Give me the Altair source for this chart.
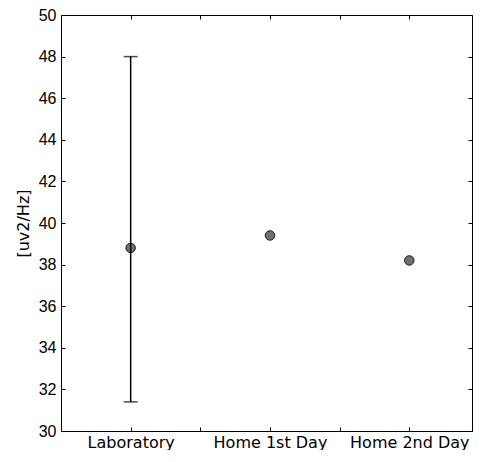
import altair as alt
import pandas as pd

categories = ["Laboratory", "Home 1st Day", "Home 2nd Day"]
positions = [1, 3, 5]
means = [38.8, 39.4, 38.2]
err_low = [31.4]
err_high = [48.0]
x_ticks = [1, 2, 3, 4, 5]
y_ticks = list(range(30, 51, 2))

df = pd.DataFrame({"cat": categories, "pos": positions, "mean": means})
err_df = pd.DataFrame({"pos": positions[:1], "lo": err_low, "hi": err_high})

label_expr = " : ".join(
    [f"datum.value == {p} ? '{c}'" for p, c in zip(positions, categories)]
) + " : ''"

W, H = 411, 416
XFONT = "DejaVu Sans"
YFONT = "Liberation Sans"
xscale = alt.Scale(domain=[0, 5.9], nice=False, zero=False)
yscale = alt.Scale(domain=[30, 50], nice=False, zero=False)

xaxis = alt.Axis(values=x_ticks, labelExpr=label_expr, title=None, grid=False,
                 ticks=False, domain=False, labelColor="black",
                 labelFont=XFONT, labelFontSize=16, labelPadding=3)
yaxis = alt.Axis(values=y_ticks, title="[uv2/Hz]", grid=False,
                 ticks=False, domain=False, labelColor="black",
                 labelFont=YFONT, labelFontSize=16, titleFont=XFONT, titleFontSize=16,
                 titleFontWeight="normal", titleColor="black", labelPadding=5,
                 titlePadding=7)

def tick_axis(orient, values, offset):
    return alt.Axis(orient=orient, values=values, labels=False, title=None, grid=False,
                    domain=False, tickSize=4, tickColor="black", tickWidth=1,
                    offset=offset)

points = alt.Chart(df).mark_point(filled=True, size=90, color="#707070", stroke="#1a1a1a",
                                  strokeWidth=1, opacity=1).encode(
    x=alt.X("pos:Q", scale=xscale, axis=xaxis),
    y=alt.Y("mean:Q", scale=yscale, axis=yaxis),
)

rule = alt.Chart(err_df).mark_rule(color="black", strokeWidth=1.5).encode(
    x=alt.X("pos:Q", scale=xscale, axis=None),
    y=alt.Y("lo:Q", scale=yscale, axis=None),
    y2="hi:Q",
)
cap_lo = alt.Chart(err_df).mark_tick(orient="horizontal", size=14, thickness=1.5, color="black").encode(
    x=alt.X("pos:Q", scale=xscale, axis=None),
    y=alt.Y("lo:Q", scale=yscale, axis=None),
)
cap_hi = alt.Chart(err_df).mark_tick(orient="horizontal", size=14, thickness=1.5, color="black").encode(
    x=alt.X("pos:Q", scale=xscale, axis=None),
    y=alt.Y("hi:Q", scale=yscale, axis=None),
)

# inward ticks: axes flipped to the opposite side of the frame
ticks_a = alt.Chart(df).mark_point(opacity=0).encode(
    x=alt.X("pos:Q", scale=xscale, axis=tick_axis("top", x_ticks, -H)),
    y=alt.Y("mean:Q", scale=yscale, axis=tick_axis("right", y_ticks, -W)),
)
ticks_b = alt.Chart(df).mark_point(opacity=0).encode(
    x=alt.X("pos:Q", scale=xscale, axis=tick_axis("bottom", x_ticks, -H)),
    y=alt.Y("mean:Q", scale=yscale, axis=tick_axis("left", y_ticks, -W)),
)

chart = alt.layer(points, rule, cap_lo, cap_hi, ticks_a, ticks_b).resolve_axis(
    x="independent", y="independent"
).properties(
    width=W, height=H,
    autosize=alt.AutoSizeParams(type="none"),
    padding={"left": 53, "top": 7, "right": 1, "bottom": 19},
).configure_view(stroke="black", strokeWidth=1)

chart.save("out.html", embed_options={"renderer": "svg", "actions": False})
